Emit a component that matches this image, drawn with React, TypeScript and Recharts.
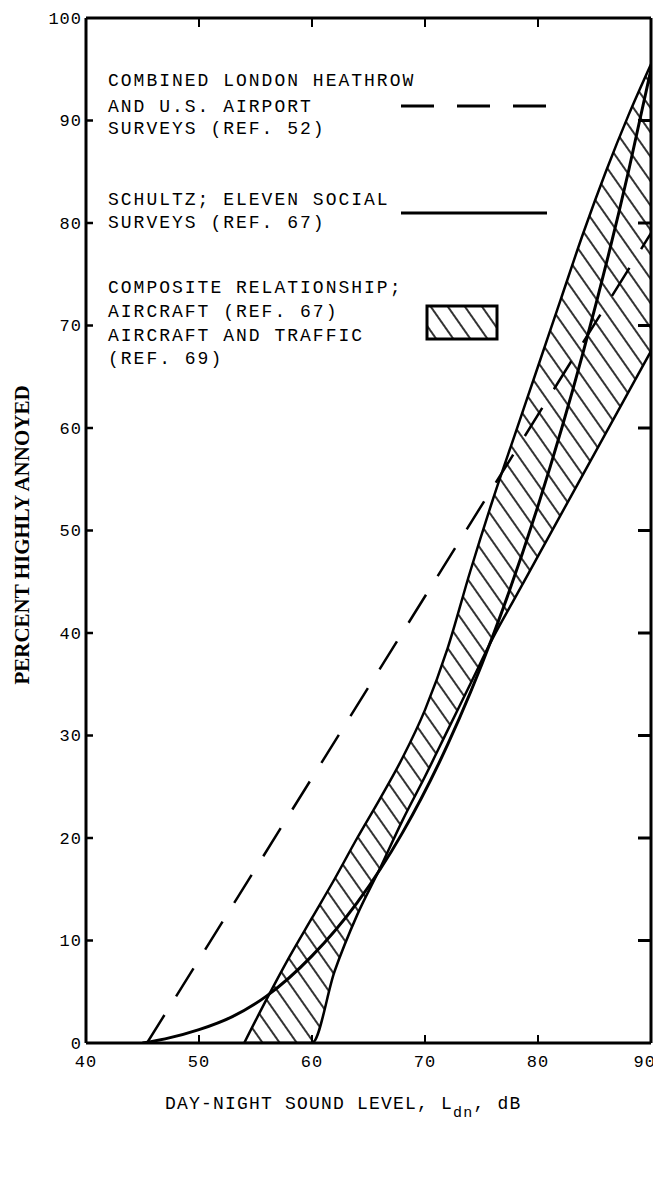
import React from 'react';
import { ComposedChart, Area, Line, XAxis, YAxis } from 'recharts';

// Composite relationship band (hatched), read at common levels
const bandLevels = [54, 56, 58, 60, 62, 64, 66, 68, 70, 72, 74, 76, 78, 80, 82, 84, 86, 88, 90];
const bandLow = [0, 0, 0, 0, 7, 12.5, 17, 21.7, 26, 30.5, 35, 39.5, 43.5, 47.5, 51.5, 55.5, 59.5, 63.5, 67.5];
const bandHigh = [0, 4.3, 8.4, 12.2, 16, 20, 23.8, 27.8, 32.5, 38.5, 46, 53, 59.5, 66, 72.5, 79, 85, 90.5, 95.5];

// Schultz; eleven social surveys
const schultzLevels = [45, 47, 50, 53, 56, 60, 64, 68, 72, 76, 80, 84, 88, 90];
const schultzValues = [0, 0.4, 1.3, 2.6, 4.6, 8.5, 13.7, 20.5, 29.1, 39.7, 52.4, 67.4, 85, 95];

// Combined London Heathrow and U.S. airport surveys
const combinedLevels = [45.4, 90];
const combinedValues = [0, 79];

const xTicks = [40, 50, 60, 70, 80, 90];
const yTicks = [0, 10, 20, 30, 40, 50, 60, 70, 80, 90, 100];

const bandData = bandLevels.map((x, i) => ({ x, band: [bandLow[i], bandHigh[i]] }));
const schultzData = schultzLevels.map((x, i) => ({ x, y: schultzValues[i] }));
const combinedData = combinedLevels.map((x, i) => ({ x, y: combinedValues[i] }));

const MONO = "'Courier New', 'Liberation Mono', monospace";
const frame = { stroke: '#000', strokeWidth: 3 };

const LeftTick = (props: any) => {
  const { x, y, payload } = props;
  const v = payload.value;
  return (
    <g>
      {v > 0 && v < 100 && (
        <line x1={x + 4} x2={x + 11} y1={y} y2={y} stroke="#000" strokeWidth={2.5} />
      )}
      <text x={x} y={y} dy="0.35em" textAnchor="end" fontFamily={MONO} fontSize={17} letterSpacing={1} fill="#000">
        {v}
      </text>
    </g>
  );
};

const RightTick = (props: any) => {
  const { x, y, payload } = props;
  if (payload.value <= 0 || payload.value >= 100) return <g />;
  return <line x1={x - 13} x2={x} y1={y} y2={y} stroke="#000" strokeWidth={3} />;
};

const BottomTick = (props: any) => {
  const { x, y, payload } = props;
  const v = payload.value;
  const last = v === 90;
  return (
    <g>
      {v > 40 && v < 90 && <line x1={x} x2={x} y1={y} y2={y - 8} stroke="#000" strokeWidth={2} />}
      <text
        x={last ? x + 5 : x}
        y={y + 24}
        textAnchor={last ? 'end' : 'middle'}
        fontFamily={MONO}
        fontSize={17}
        letterSpacing={1}
        fill="#000"
      >
        {v}
      </text>
    </g>
  );
};

const TopTick = (props: any) => {
  const { x, y } = props;
  return <line x1={x} x2={x} y1={y} y2={y + 9} stroke="#000" strokeWidth={2} />;
};

const legendText = { fontFamily: MONO, fontSize: 18, letterSpacing: 2, fill: '#000' };

const Overlay = () => (
  <svg
    width={653}
    height={1140}
    style={{ position: 'absolute', left: 0, top: 0, pointerEvents: 'none' }}
  >
    <defs>
      <pattern id="hatchLegend" width={14} height={14} patternUnits="userSpaceOnUse" patternTransform="rotate(-35)">
        <line x1={7} y1={0} x2={7} y2={14} stroke="#000" strokeWidth={1.6} />
      </pattern>
    </defs>
    <g {...legendText}>
      <text x={100} y={78}>COMBINED LONDON HEATHROW</text>
      <text x={100} y={104}>AND U.S. AIRPORT</text>
      <text x={100} y={126}>SURVEYS (REF. 52)</text>
      <text x={100} y={197}>SCHULTZ; ELEVEN SOCIAL</text>
      <text x={100} y={220}>SURVEYS (REF. 67)</text>
      <text x={100} y={285}>COMPOSITE RELATIONSHIP;</text>
      <text x={100} y={309}>AIRCRAFT (REF. 67)</text>
      <text x={100} y={333}>AIRCRAFT AND TRAFFIC</text>
      <text x={100} y={356}>(REF. 69)</text>
    </g>
    <line x1={393} x2={539} y1={98} y2={98} stroke="#000" strokeWidth={3} strokeDasharray="33 23" />
    <line x1={393} x2={539} y1={205} y2={205} stroke="#000" strokeWidth={3} />
    <rect x={419} y={298} width={70} height={33} fill="url(#hatchLegend)" stroke="#000" strokeWidth={3} />

    <text
      x={14}
      y={527}
      transform="rotate(-90 14 527)"
      textAnchor="middle"
      dominantBaseline="central"
      fontFamily="'Liberation Serif', serif"
      fontWeight="bold"
      fontSize={21}
      fill="#000"
    >
      PERCENT HIGHLY ANNOYED
    </text>
    <text x={157} y={1101} fontFamily={MONO} fontSize={18} letterSpacing={1.2} fill="#000">
      DAY-NIGHT SOUND LEVEL, L
      <tspan dy={8} fontSize={15}>dn</tspan>
      <tspan dy={-8}>, dB</tspan>
    </text>
  </svg>
);

export default function App() {
  return (
    <div style={{ position: 'relative', width: 653, height: 1140, background: '#fff', overflow: 'hidden' }}>
      <ComposedChart width={653} height={1140} margin={{ top: 9, right: 9, left: 0, bottom: 0 }}>
        <defs>
          <pattern id="hatchBand" width={14} height={14} patternUnits="userSpaceOnUse" patternTransform="rotate(-35)">
            <line x1={7} y1={0} x2={7} y2={14} stroke="#000" strokeWidth={1.6} />
          </pattern>
        </defs>
        <XAxis
          dataKey="x"
          type="number"
          domain={[40, 90]}
          ticks={xTicks}
          allowDataOverflow
          height={105}
          axisLine={frame}
          tickLine={false}
          tickSize={0}
          tickMargin={0}
          tick={<BottomTick />}
        />
        <XAxis
          xAxisId="t"
          orientation="top"
          dataKey="x"
          type="number"
          domain={[40, 90]}
          ticks={[50, 60, 70, 80]}
          allowDataOverflow
          height={1}
          axisLine={frame}
          tickLine={false}
          tickSize={0}
          tickMargin={0}
          tick={<TopTick />}
        />
        <YAxis
          type="number"
          domain={[0, 100]}
          ticks={yTicks}
          allowDataOverflow
          width={78}
          axisLine={frame}
          tickLine={false}
          tickSize={0}
          tickMargin={4}
          tick={<LeftTick />}
        />
        <YAxis
          yAxisId="r"
          orientation="right"
          type="number"
          domain={[0, 100]}
          ticks={yTicks}
          allowDataOverflow
          width={1}
          axisLine={frame}
          tickLine={false}
          tickSize={0}
          tickMargin={0}
          tick={<RightTick />}
        />
        <Area
          data={bandData}
          dataKey="band"
          type="monotone"
          fill="url(#hatchBand)"
          fillOpacity={1}
          stroke="#000"
          strokeWidth={2.5}
          isAnimationActive={false}
        />
        <Line
          data={schultzData}
          dataKey="y"
          xAxisId="t"
          yAxisId="r"
          type="monotone"
          stroke="#000"
          strokeWidth={3}
          dot={false}
          isAnimationActive={false}
        />
        <Line
          data={combinedData}
          dataKey="y"
          type="linear"
          stroke="#000"
          strokeWidth={2.5}
          strokeDasharray="33 22"
          dot={false}
          isAnimationActive={false}
        />
      </ComposedChart>
      <Overlay />
    </div>
  );
}
